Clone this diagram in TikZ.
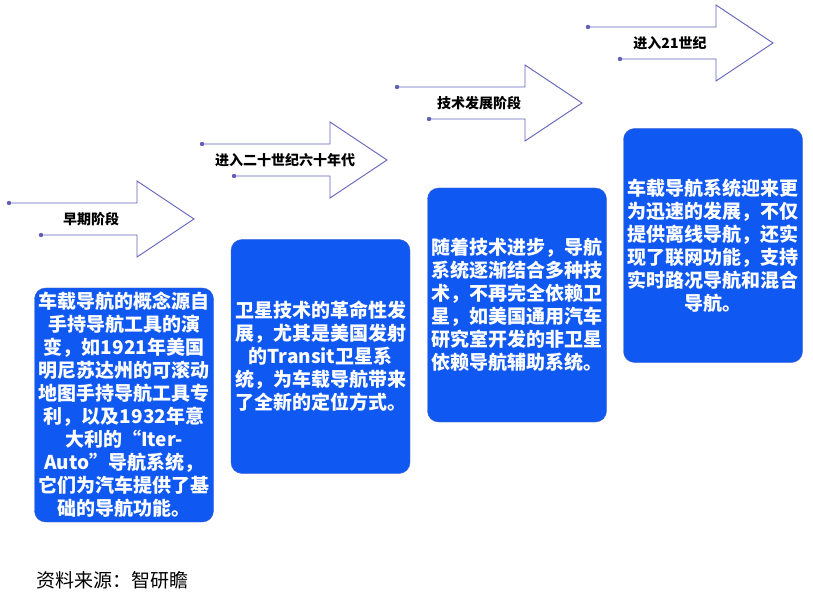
\documentclass[tikz,border=0pt]{standalone}
\usepackage{fontspec}
\setmainfont{Noto Sans CJK SC}
\usepackage{xcolor}
\definecolor{boxblue}{RGB}{16,88,242}
\definecolor{boxedge}{RGB}{70,100,200}
\definecolor{arrowc}{RGB}{96,96,188}
\begin{document}
\begin{tikzpicture}[x=1pt,y=-1pt,
	outline/.style={draw=arrowc, line width=0.9pt, line join=miter},
	enddot/.style={fill=arrowc},
	stagelabel/.style={font=\bfseries\fontsize{14}{16}\selectfont, text=black, inner sep=0pt},
	descbox/.style={draw=boxedge, line width=0.4pt, fill=boxblue, rounded corners=11pt, text=white, align=center, inner sep=0pt, minimum width=179pt, minimum height=234pt, font=\bfseries\fontsize{19}{23}\selectfont}]
	\useasboundingbox (0,0) rectangle (813,601);
	\draw [outline] (9,203) -- (137,203) -- (137,181) -- (194,219) -- (137,257) -- (137,235) -- (41,235);
	\fill [enddot] (9,203) circle (2.2);
	\fill [enddot] (41,235) circle (2.2);
	\node [stagelabel] (stage1) at (91,219) {早期阶段};
	\draw [outline] (202,144) -- (330,144) -- (330,122) -- (387,160) -- (330,198) -- (330,176) -- (234,176);
	\fill [enddot] (202,144) circle (2.2);
	\fill [enddot] (234,176) circle (2.2);
	\node [stagelabel] (stage2) at (285,160) {进入二十世纪六十年代};
	\draw [outline] (397,87) -- (525,87) -- (525,65) -- (582,103) -- (525,141) -- (525,119) -- (429,119);
	\fill [enddot] (397,87) circle (2.2);
	\fill [enddot] (429,119) circle (2.2);
	\node [stagelabel] (stage3) at (479,103) {技术发展阶段};
	\draw [outline] (588,27) -- (716,27) -- (716,5) -- (773,43) -- (716,81) -- (716,59) -- (620,59);
	\fill [enddot] (588,27) circle (2.2);
	\fill [enddot] (620,59) circle (2.2);
	\node [stagelabel] (stage4) at (670,43) {进入21世纪};
	\node [descbox] (desc1) at (124,405) {车载导航的概念源自\\手持导航工具的演\\变，如1921年美国\\明尼苏达州的可滚动\\地图手持导航工具专\\利，以及1932年意\\大利的“Iter-\\Auto”导航系统，\\它们为汽车提供了基\\础的导航功能。};
	\node [descbox] (desc2) at (320.5,356.5) {卫星技术的革命性发\\展，尤其是美国发射\\的Transit卫星系\\统，为车载导航带来\\了全新的定位方式。};
	\node [descbox, align=left] (desc3) at (517,305) {随着技术进步，导航\\系统逐渐结合多种技\\术，不再完全依赖卫\\星，如美国通用汽车\\研究室开发的非卫星\\依赖导航辅助系统。};
	\node [descbox] (desc4) at (713,245.5) {车载导航系统迎来更\\为迅速的发展，不仅\\提供离线导航，还实\\现了联网功能，支持\\实时路况导航和混合\\导航。};
	\node [anchor=west, inner sep=0pt, font=\fontsize{19}{22}\selectfont] (source) at (36,580) {资料来源：智研瞻};
\end{tikzpicture}
\end{document}
